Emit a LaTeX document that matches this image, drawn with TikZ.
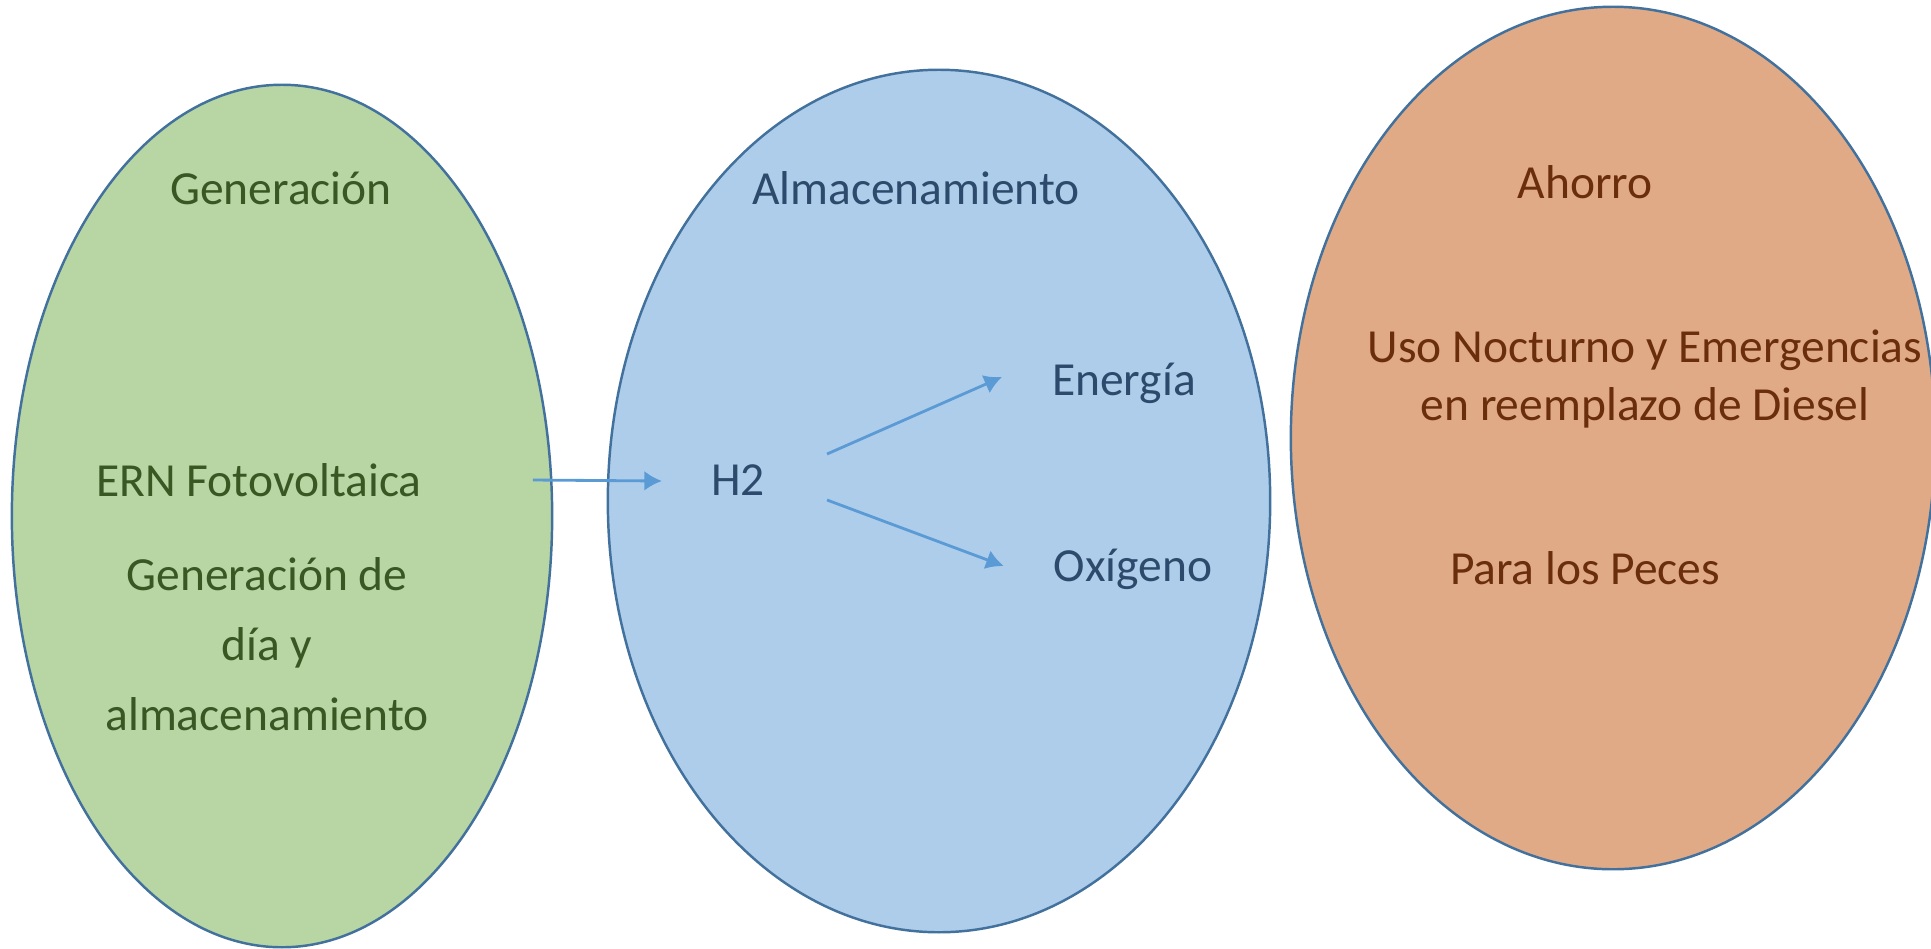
\documentclass[tikz,border=0pt]{standalone}
\usepackage{fontspec}
\setmainfont{Carlito}
\usetikzlibrary{shapes.geometric,arrows.meta}

\definecolor{gengreen}{HTML}{B8D5A4}
\definecolor{storeblue}{HTML}{AECDEA}
\definecolor{saveorange}{HTML}{E1AA87}
\definecolor{rimblue}{HTML}{41719C}
\definecolor{flowblue}{HTML}{5B9BD5}
\definecolor{gentext}{HTML}{385723}
\definecolor{storetext}{HTML}{2D4A6C}
\definecolor{savetext}{HTML}{6B2E0C}

\tikzset{
	zone/.style = {ellipse, draw=rimblue, line width=0.7pt, minimum height=8.62cm, inner sep=0pt},
	label/.style = {inner sep=1pt, align=center, font=\fontsize{13.5}{16.5}\selectfont},
	flow/.style = {draw=flowblue, line width=0.8pt, -{Latex[length=5pt, width=5.6pt]}}
}

\begin{document}
\begin{tikzpicture}[x=0.01cm, y=-0.01cm]

		\pgfmathsetmacro{\zonemid}{516}
		\pgfmathsetmacro{\rowgap}{3.4}

		\useasboundingbox (0,0) rectangle (1931,948);

		% draw the three zones
		\node[zone, fill=gengreen, minimum width=5.40cm] (gen) at (282, \zonemid) {};
		\node[zone, fill=storeblue, minimum width=6.62cm] (store) at (939, \zonemid - 15) {};
		\node[zone, fill=saveorange, minimum width=6.44cm] (save) at (1613, \zonemid - 78) {};

		% texts in the left zone
		\begin{scope}[every node/.style={label, text=gentext}]
			\node (gentitle) at (281, 188) {Generación};
			\node (ern) at (259, 480) {ERN Fotovoltaica};
			\node (gennote) at (267, 644) {Generación de\\[\rowgap pt]día y\\[\rowgap pt]almacenamiento};
		\end{scope}

		% texts in the middle zone
		\begin{scope}[every node/.style={label, text=storetext}]
			\node (storetitle) at (916, 188) {Almacenamiento};
			\node (h2) at (738, 480) {H2};
			\node (energia) at (1124, 383) {Energía};
			\node (oxigeno) at (1133, 569) {Oxígeno};
		\end{scope}

		% texts in the right zone
		\begin{scope}[every node/.style={label, text=savetext}]
			\node (savetitle) at (1585, 182) {Ahorro};
			\node (nocturno) at (1645, 379) {Uso Nocturno y Emergencias\\en reemplazo de Diesel};
			\node (peces) at (1585, 568) {Para los Peces};
		\end{scope}

		% arrows
		\draw[flow] ([shift={(107, 0)}]ern.east) -- ([shift={(-45, 1)}]h2.west);
		\draw[flow] ([shift={(58, -26)}]h2.east) -- ([shift={(-46, -6)}]energia.west);
		\draw[flow] ([shift={(58, 20)}]h2.east) -- ([shift={(-46, -3)}]oxigeno.west);

	\end{tikzpicture}
\end{document}
